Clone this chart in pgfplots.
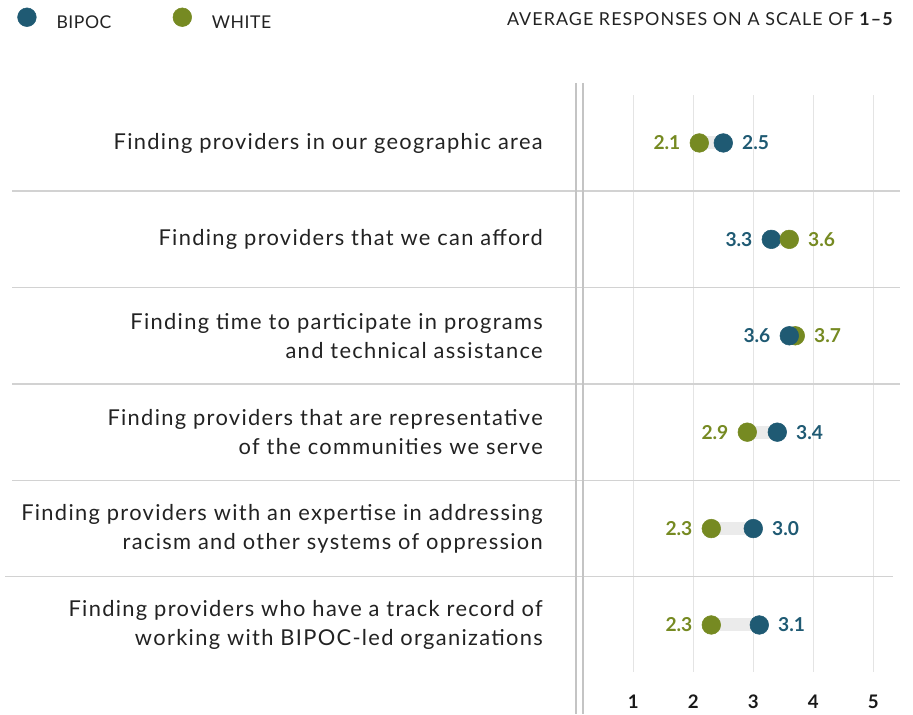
\documentclass[border=0pt]{standalone}
\usepackage{fontspec}
\setmainfont{Lato}
\newfontfamily\spaced{Lato}[LetterSpace=6]
\newfontfamily\legfont{Lato}[LetterSpace=3]
\usepackage{pgfplots}
\pgfplotsset{compat=1.18}
\definecolor{bipoc}{HTML}{1F5A73}
\definecolor{wcol}{HTML}{768A22}
\definecolor{txt}{HTML}{222222}
\definecolor{sepc}{HTML}{D2D2D2}
\definecolor{gridc}{HTML}{E4E4E4}
\definecolor{barc}{HTML}{EBEBEB}
\definecolor{dblc}{HTML}{C4C4C4}

\pgfplotsset{
  dot/.style={only marks, mark=*, mark size=7pt, forget plot, point meta=x,
    nodes near coords={\pgfmathprintnumber[fixed,fixed zerofill,precision=1]{\pgfplotspointmeta}},
    nodes near coords style={inner xsep=14pt, inner ysep=0pt,
      font=\bfseries\fontsize{14.4}{14.4}\selectfont}},
  lab left/.style={nodes near coords style={anchor=east}},
  lab right/.style={nodes near coords style={anchor=west}},
}

\begin{document}
\begin{tikzpicture}
\useasboundingbox (0pt,-17.25pt) rectangle (684.75pt,518.25pt);
\begin{axis}[
  scale only axis,
  width=684.75pt, height=456pt,
  xmin=-9.555, xmax=5.662,
  ymin=-0.685, ymax=5.622,
  clip=false,
  axis line style={draw=none},
  major tick length=0pt,
  ytick=\empty,
  xtick={1,2,3,4,5},
  /pgf/number format/assume math mode=true,
  xticklabel style={font=\bfseries\fontsize{14}{14}\selectfont, text=black!90, inner sep=0pt, yshift=-2.5pt},
  legend columns=2,
  legend style={at={(axis description cs:0.019,1.1048)}, anchor=west, draw=none, fill=none,
    inner sep=0pt, outer sep=0pt,
    nodes={inner sep=0pt, text=txt, font=\legfont\fontsize{13.2}{13.2}\selectfont},
    /tikz/every odd column/.append style={column sep=15pt},
    /tikz/every even column/.append style={column sep=46pt}},
]
% grid lines
\pgfplotsinvokeforeach{1,2,3,4,5}{
  \draw[gridc, line width=1.1pt] (axis cs:#1,-0.488) -- (axis cs:#1,5.498);
}
% row separators
\pgfplotsinvokeforeach{4.5,3.5,2.5,1.5}{
  \draw[sepc, line width=1.1pt] (axis cs:-9.355,#1) -- (axis cs:5.445,#1);
}
\draw[sepc, line width=1.1pt] (axis cs:-9.47,0.5) -- (axis cs:5.328,0.5);
% double vertical line
\draw[dblc, line width=1.1pt] (axis cs:0.045,5.622) -- (axis cs:0.045,-0.923);
\draw[dblc, line width=1.1pt] (axis cs:0.162,5.622) -- (axis cs:0.162,-0.923);

% legend images
\addlegendimage{legend image code/.code={\fill[bipoc] (0pt,4.75pt) circle (7pt);}}
\addlegendentry{BIPOC}
\addlegendimage{legend image code/.code={\fill[wcol] (0pt,4.75pt) circle (7pt);}}
\addlegendentry{WHITE}

% connecting bars
\addplot[barc, line width=9.75pt, forget plot] coordinates {(2.1,5) (2.5,5)};
\addplot[barc, line width=9.75pt, forget plot] coordinates {(3.3,4) (3.6,4)};
\addplot[barc, line width=9.75pt, forget plot] coordinates {(3.6,3) (3.7,3)};
\addplot[barc, line width=9.75pt, forget plot] coordinates {(2.9,2) (3.4,2)};
\addplot[barc, line width=9.75pt, forget plot] coordinates {(2.3,1) (3.0,1)};
\addplot[barc, line width=9.75pt, forget plot] coordinates {(2.3,0) (3.1,0)};

% WHITE dots (drawn below BIPOC)
\addplot[dot, lab left, color=wcol, nodes near coords style={text=wcol}]
  coordinates {(2.1,5) (2.9,2) (2.3,1) (2.3,0)};
\addplot[dot, lab right, color=wcol, nodes near coords style={text=wcol}]
  coordinates {(3.7,3)};
% BIPOC dots
\addplot[dot, lab left, color=bipoc, nodes near coords style={text=bipoc}]
  coordinates {(3.3,4) (3.6,3)};
\addplot[dot, lab right, color=bipoc, nodes near coords style={text=bipoc}]
  coordinates {(2.5,5) (3.4,2) (3.0,1) (3.1,0)};
% WHITE dot drawn above BIPOC in this row
\addplot[dot, lab right, color=wcol, nodes near coords style={text=wcol}]
  coordinates {(3.6,4)};

% category labels
\begin{scope}[every node/.style={anchor=east, align=right, inner sep=0pt, text=txt,
    font=\spaced\fontsize{16.4}{21.75}\selectfont}]
\node at (axis cs:-0.505,5) {Finding providers in our geographic area};
\node at (axis cs:-0.505,4) {Finding providers that we can afford};
\node at (axis cs:-0.505,3) {Finding time to participate in programs\\and technical assistance};
\node at (axis cs:-0.505,2) {Finding providers that are representative\\of the communities we serve};
\node at (axis cs:-0.505,1) {Finding providers with an expertise in addressing\\racism and other systems of oppression};
\node at (axis cs:-0.505,0) {Finding providers who have a track record of\\working with BIPOC-led organizations};
\end{scope}

% scale note
\node[anchor=east, inner sep=0pt, text=txt, font=\spaced\fontsize{13.4}{13.4}\selectfont]
  at (axis description cs:0.978,1.1048) {AVERAGE RESPONSES ON A SCALE OF {\bfseries 1–5}};
\end{axis}
\end{tikzpicture}
\end{document}
